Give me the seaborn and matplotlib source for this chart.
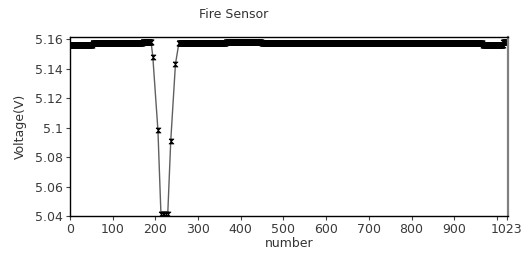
import matplotlib.pyplot as plt
import numpy as np
import pandas as pd
import seaborn as sns

# Steady readings before the dip, as runs: (number of samples, voltage)
pre_counts = [53, 117, 21]
pre_volts = [5.1563, 5.1571, 5.1579]

# Samples through the dip
dip_x = [194, 206, 213, 217, 221, 225, 229, 236, 247]
dip_y = [5.148, 5.098, 5.0415, 5.0415, 5.0415, 5.0415, 5.0415, 5.091, 5.143]

# Steady readings after the dip, starting at sample 255
post_start = 255
post_counts = [110, 84, 518, 48, 9]
post_volts = [5.1572, 5.1580, 5.1572, 5.1560, 5.1578]

y_ticks = [5.04, 5.06, 5.08, 5.1, 5.12, 5.14, 5.16]
y_labels = ["5.04", "5.06", "5.08", "5.1", "5.12", "5.14", "5.16"]
x_ticks = [0, 100, 200, 300, 400, 500, 600, 700, 800, 900, 1000, 1023]
x_labels = ["0", "100", "200", "300", "400", "500", "600", "700", "800", "900", "", "1023"]

# Build the series from the runs
pre_y = np.repeat(pre_volts, pre_counts)
post_y = np.repeat(post_volts, post_counts)
df = pd.DataFrame({
    "number": np.concatenate([np.arange(len(pre_y)), dip_x,
                              post_start + np.arange(len(post_y))]),
    "voltage": np.concatenate([pre_y, dip_y, post_y]),
})

sns.set_style("white")
plt.rcParams["font.family"] = ["DejaVu Sans"]

fig = plt.figure(figsize=(5.26, 2.57), dpi=100)
ax = fig.add_axes([70 / 526, 41 / 257, 438 / 526, 179 / 257])

# hourglass marker
hourglass = [(-1, 1), (1, 1), (-1, -1), (1, -1), (-1, 1)]
sns.lineplot(data=df, x="number", y="voltage", ax=ax, estimator=None, sort=False,
             color="#606060", linewidth=1.0, marker=hourglass, markersize=3.6,
             markerfacecolor="black", markeredgecolor="black", markeredgewidth=0.5)

ax.set_xlim(0, 1026)
ax.set_ylim(5.04, 5.1614)
ax.set_xticks(x_ticks)
ax.set_xticklabels(x_labels)
ax.set_yticks(y_ticks)
ax.set_yticklabels(y_labels)
ax.tick_params(axis="both", direction="out", length=3, width=0.8, color="#444444",
               labelsize=9, labelcolor="#3a3a3a", pad=2, bottom=True, left=True)

for side in ["left", "bottom", "top"]:
    ax.spines[side].set_color("black")
    ax.spines[side].set_linewidth(1.0)
ax.spines["right"].set_color("#808080")
ax.spines["right"].set_linewidth(1.6)

ax.set_xlabel("number", fontsize=9, color="#333333", labelpad=1)
ax.set_ylabel("Voltage(V)", fontsize=9, color="#333333", labelpad=6)
fig.text(234 / 526, 1 - 15 / 257, "Fire Sensor", ha="center", va="center",
         fontsize=9, color="#333333")

fig.savefig("out.png", dpi=100)
